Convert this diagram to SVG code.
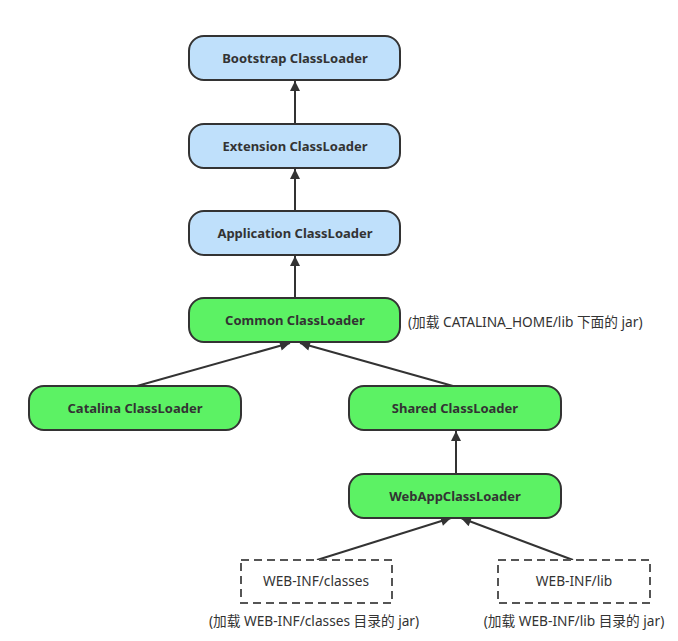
<svg xmlns="http://www.w3.org/2000/svg" width="678" height="641" viewBox="0 0 678 641">
<defs>
<style>
.blue{fill:#bfe0fb;stroke:#333;stroke-width:2}
.green{fill:#5cf264;stroke:#333;stroke-width:2}
.dash{fill:#fff;stroke:#555;stroke-width:2;stroke-dasharray:8,5}
.lbl{font-family:"Noto Sans","Open Sans","Liberation Sans",sans-serif;font-weight:bold;font-size:13px;fill:#333;text-anchor:middle}
.plain{font-family:"Noto Sans","Open Sans","Liberation Sans",sans-serif;font-size:13.7px;fill:#333;text-anchor:middle}
.note{font-family:"Noto Sans","Open Sans","Liberation Sans","Noto Sans CJK SC",sans-serif;font-size:13.7px;fill:#333}
.edge{stroke:#333;stroke-width:2;fill:none;marker-end:url(#arr)}
</style>
<marker id="arr" viewBox="0 0 10 10" refX="10" refY="5" markerWidth="12" markerHeight="10" markerUnits="userSpaceOnUse" orient="auto">
<path d="M0,0 L10,5 L0,10 z" fill="#333"/>
</marker>
</defs>
<rect width="678" height="641" fill="#fff"/>
<g id="connectors">
<line class="edge" x1="295" y1="123" x2="295" y2="81"/>
<line class="edge" x1="295" y1="211" x2="295" y2="169"/>
<line class="edge" x1="295" y1="298" x2="295" y2="256"/>
<line class="edge" x1="137" y1="386" x2="290" y2="343"/>
<line class="edge" x1="453" y1="386" x2="300" y2="343"/>
<line class="edge" x1="456" y1="474" x2="456" y2="431"/>
<line class="edge" x1="317" y1="560" x2="451" y2="518"/>
<line class="edge" x1="573" y1="560" x2="461" y2="518"/>
</g>
<g id="bootstrap"><rect class="blue" x="189" y="36" width="211" height="44" rx="15"/><text class="lbl" x="295" y="63">Bootstrap ClassLoader</text></g>
<g id="extension"><rect class="blue" x="189" y="124" width="211" height="44" rx="15"/><text class="lbl" x="295" y="151">Extension ClassLoader</text></g>
<g id="application"><rect class="blue" x="189" y="211" width="211" height="44" rx="15"/><text class="lbl" x="295" y="238">Application ClassLoader</text></g>
<g id="common"><rect class="green" x="189" y="298" width="211" height="44" rx="15"/><text class="lbl" x="295" y="325">Common ClassLoader</text></g>
<g id="common-note"><text class="note" x="408" y="327">(加载 CATALINA_HOME/lib 下面的 jar)</text></g>
<g id="catalina"><rect class="green" x="29" y="386" width="212" height="44" rx="15"/><text class="lbl" x="135" y="413">Catalina ClassLoader</text></g>
<g id="shared"><rect class="green" x="349" y="386" width="212" height="44" rx="15"/><text class="lbl" x="455" y="413">Shared ClassLoader</text></g>
<g id="webapp"><rect class="green" x="349" y="474" width="212" height="44" rx="15"/><text class="lbl" x="455" y="501">WebAppClassLoader</text></g>
<g id="classes"><rect class="dash" x="241" y="560" width="151" height="43"/><text class="plain" x="316" y="586">WEB-INF/classes</text></g>
<g id="lib"><rect class="dash" x="498" y="560" width="152" height="43"/><text class="plain" x="574" y="586">WEB-INF/lib</text></g>
<g id="notes"><text class="note" x="314" y="626" text-anchor="middle">(加载 WEB-INF/classes 目录的 jar)</text><text class="note" x="574" y="626" text-anchor="middle">(加载 WEB-INF/lib 目录的 jar)</text></g>
</svg>
